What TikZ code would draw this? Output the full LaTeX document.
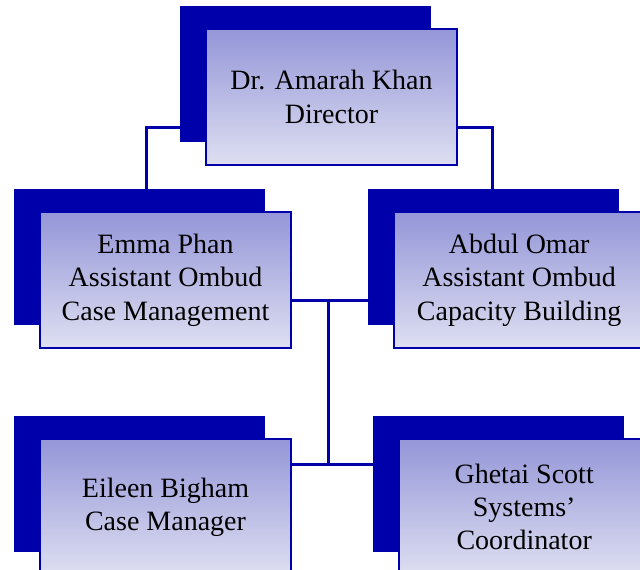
\documentclass[tikz,border=0pt]{standalone}
\usepackage{fontspec}
\setmainfont{Liberation Serif}
\usetikzlibrary{positioning,shadows,backgrounds}
\definecolor{ombudblue}{RGB}{0,0,170}
\definecolor{boxtop}{RGB}{148,150,216}
\definecolor{boxbottom}{RGB}{222,223,241}
\tikzset{
    %Define style for boxes
    box/.style={
           rectangle,
           draw=ombudblue, line width=1.5pt,
           top color=boxtop, bottom color=boxbottom,
           minimum width=188pt,
           minimum height=102pt,
           align=center,
           font=\fontsize{21}{25}\selectfont,
           general shadow={fill=ombudblue, shadow xshift=-19.5pt, shadow yshift=17.25pt}},
    % Define connector style
    link/.style={
           draw=ombudblue,
           line width=2.25pt}
}
\begin{document}
\begin{tikzpicture}[x=0.75pt, y=-0.75pt]
 \useasboundingbox (0,0) rectangle (640,570);
 %nodes
    \node[box] (emma) at (165.5,280) {Emma Phan\\Assistant Ombud\\Case Management};
    \node[box, right=75.75pt of emma] (abdul) {Abdul Omar\\Assistant Ombud\\Capacity Building};
    \node[box, above=33.75pt of emma, xshift=124.5pt] (dir) {Dr. Amarah Khan\\Director};
    \node[box, below=66.75pt of emma] (eileen) {Eileen Bigham\\Case Manager};
    \node[box, right=79.5pt of eileen] (ghetai) {Ghetai Scott\\Systems'\\Coordinator};
    \coordinate (split) at (328,301);
    \coordinate (join) at (328,463);
 %edges
  \begin{pgfonlayer}{background}
    \draw[link] ([yshift=-23.25pt]dir.center) -| ([xshift=-13.9pt]emma.center);
    \draw[link] ([yshift=-23.25pt]dir.center) -| ([xshift=-19.9pt]abdul.center);
    \draw[link] ([yshift=-15.75pt]emma.center) -- ([yshift=-15.75pt]abdul.center);
    \draw[link] (split) -- (join);
    \draw[link] ([yshift=31.5pt]eileen.center) -- ([yshift=31.5pt]ghetai.center);
  \end{pgfonlayer}
\end{tikzpicture}
\end{document}
